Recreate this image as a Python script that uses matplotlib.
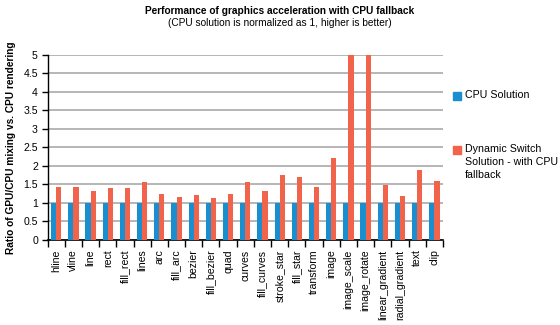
import numpy as np
import matplotlib
matplotlib.use('Agg')
import matplotlib.pyplot as plt
from matplotlib.patches import Rectangle

plt.rcParams['font.family'] = ['Liberation Sans', 'DejaVu Sans']

# ── data ────────────────────────────────────────────────────────────────
categories = ['hline', 'vline', 'line', 'rect', 'fill_rect', 'lines', 'arc',
              'fill_arc', 'bezier', 'fill_bezier', 'quad', 'curves',
              'fill_curves', 'stroke_star', 'fill_star', 'transform', 'image',
              'image_scale', 'image_rotate', 'linear_gradient',
              'radial_gradient', 'text', 'clip']
cpu = [1.0] * len(categories)
dynamic = [1.44, 1.44, 1.31, 1.41, 1.39, 1.57, 1.23, 1.17, 1.20, 1.14, 1.23,
           1.57, 1.32, 1.76, 1.70, 1.43, 2.22, 5.0, 5.0, 1.47, 1.19, 1.89, 1.59]
yticks = [0, 0.5, 1, 1.5, 2, 2.5, 3, 3.5, 4, 4.5, 5]
series_labels = ['CPU Solution', 'Dynamic Switch\nSolution - with CPU\nfallback']

BLUE = '#1a8fd0'
RED = '#f1634b'

fig = plt.figure(figsize=(5.6, 3.25), dpi=100)
ax = fig.add_axes([0.085, 0.262, 0.706, 0.569])

x = np.arange(len(categories))
w = 0.3
ax.bar(x - w / 2, cpu, w, color=BLUE, zorder=3)
ax.bar(x + w / 2, dynamic, w, color=RED, zorder=3)

ax.set_xlim(-0.5, len(categories) - 0.5)
ax.set_ylim(0, 5)
ax.set_yticks(yticks)
ax.set_yticklabels([f'{t:g}' for t in yticks], fontsize=7.6)
ax.yaxis.grid(True, color='#a9a9a9', linewidth=1.2, zorder=0)

ax.set_xticks(x)
ax.set_xticklabels(categories, rotation=90, fontsize=7.6)
ax.set_xticks(np.arange(-0.5, len(categories)), minor=True)
ax.tick_params(axis='x', which='major', length=0, pad=7)
ax.tick_params(axis='x', which='minor', length=5, width=1, color='black')
ax.tick_params(axis='y', length=4, width=1, pad=3)

for s in ['top', 'right']:
    ax.spines[s].set_visible(False)
ax.spines['left'].set_linewidth(1)
ax.spines['bottom'].set_linewidth(1.2)

ax.set_ylabel('Ratio of GPU/CPU mixing vs. CPU rendering', fontsize=7.3,
              fontweight='bold', labelpad=5)

fig.text(0.5, 0.965, 'Performance of graphics acceleration with CPU fallback',
         ha='center', va='center', fontsize=7.3, fontweight='bold')
fig.text(0.5, 0.93, '(CPU solution is normalized as 1, higher is better)',
         ha='center', va='center', fontsize=7.3)

# legend: square aligned with the first line of each label
W, H = 560.0, 325.0
for label, color, ytop in zip(series_labels, [BLUE, RED], [92, 146]):
    fig.add_artist(Rectangle((453 / W, 1 - (ytop + 8) / H), 8 / W, 8 / H,
                             transform=fig.transFigure, color=color))
    fig.text(465 / W, 1 - (ytop - 2) / H, label, ha='left', va='top',
             fontsize=7.7, linespacing=1.35)

fig.savefig('out.png', dpi=100)
